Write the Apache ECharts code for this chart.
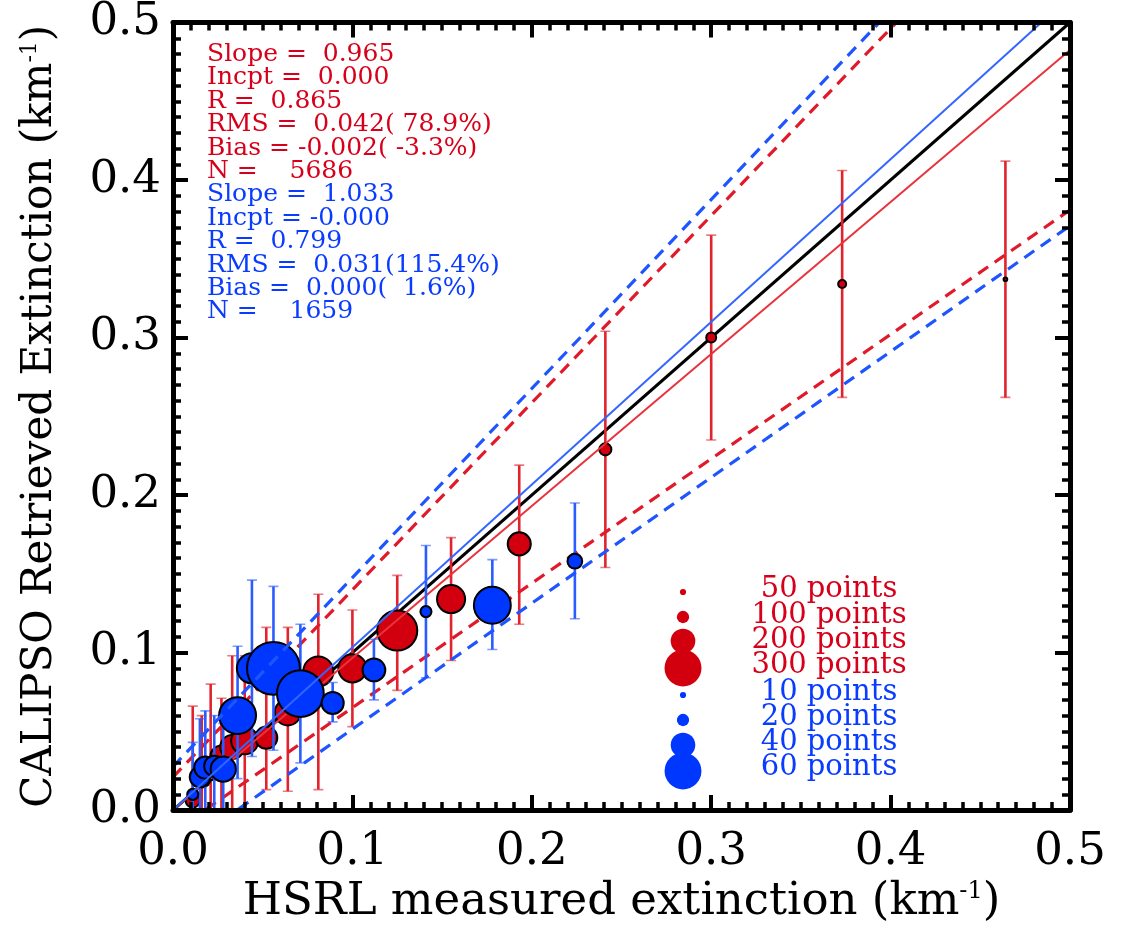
<!DOCTYPE html>
<html>
<head>
<meta charset="utf-8">
<script src="https://cdn.jsdelivr.net/npm/echarts@6/dist/echarts.min.js"></script>
<style>html,body{margin:0;padding:0;background:#fff}#c{width:1125px;height:930px}</style>
</head>
<body>
<div id="c"></div>
<script>
// ---------------- data ----------------
const redX  = [0.011, 0.016, 0.021, 0.027, 0.033, 0.040, 0.052, 0.064, 0.081, 0.100, 0.125, 0.155, 0.193, 0.241, 0.300, 0.373, 0.464];
const redY  = [0.006, 0.020, 0.026, 0.034, 0.040, 0.044, 0.046, 0.062, 0.088, 0.090, 0.114, 0.134, 0.169, 0.229, 0.300, 0.334, 0.337];
const redHi = [0.066, 0.060, 0.080, 0.071, 0.098, 0.098, 0.116, 0.116, 0.137, 0.127, 0.149, 0.173, 0.219, 0.304, 0.365, 0.406, 0.412];
const redLo = [-0.02, -0.02, -0.02, -0.02, -0.01, 0.000, 0.013, 0.012, 0.013, 0.053, 0.076, 0.095, 0.118, 0.154, 0.235, 0.262, 0.262];
const redN  = [114, 146, 179, 179, 195, 220, 179, 211, 244, 228, 325, 228, 187, 98, 81, 65, 30];

const blueX  = [0.011, 0.015, 0.018, 0.023, 0.028, 0.036, 0.044, 0.056, 0.071, 0.089, 0.112, 0.141, 0.178, 0.224];
const blueY  = [0.010, 0.021, 0.027, 0.028, 0.026, 0.060, 0.090, 0.090, 0.074, 0.068, 0.089, 0.126, 0.130, 0.158];
const blueHi = [0.043, 0.058, 0.063, 0.060, 0.055, 0.104, 0.146, 0.142, 0.118, 0.081, 0.1085, 0.168, 0.159, 0.195];
const blueLo = [-0.02, -0.02, -0.02, -0.02, -0.02, 0.020, 0.034, 0.038, 0.030, 0.056, 0.070, 0.084, 0.102, 0.1215];
const blueN  = [18, 33, 36, 33, 41, 60, 49, 86, 76, 36, 37, 18, 60, 24];

// fit lines: [slope, intercept]
const oneToOne   = [1.0, 0.0];
const redFit     = [0.965, 0.000];
const redUpper   = [1.188, 0.021];
const redLower   = [0.790, -0.014];
const blueFit    = [1.033, 0.000];
const blueUpper  = [1.200, 0.0276];
const blueLower  = [0.799, -0.0285];

const xTicks = [0.0, 0.1, 0.2, 0.3, 0.4, 0.5];

const redStats = ['Slope =  0.965', 'Incpt =  0.000', 'R =  0.865', 'RMS =  0.042( 78.9%)', 'Bias = -0.002( -3.3%)', 'N =    5686'];
const blueStats = ['Slope =  1.033', 'Incpt = -0.000', 'R =  0.799', 'RMS =  0.031(115.4%)', 'Bias =  0.000(  1.6%)', 'N =    1659'];

const redLegendN  = [50, 100, 200, 300];
const blueLegendN = [10, 20, 40, 60];

// ---------------- styling ----------------
const RED = '#d2000f', BLUE = '#0037ff';
const RED_T = '#d7001a', BLUE_T = '#0a3cff';
const RED_BAR = '#e0232d', BLUE_BAR = '#2a5cff';
const FONT = '"DejaVu Serif", serif';
const redSize = n => n * 0.1233;
const blueSize = n => n * 0.615;

function lineData(p) { return [[0, p[1]], [0.5, p[0] * 0.5 + p[1]]]; }
function zip3(a, b, c) { return a.map((v, i) => [v, b[i], c[i]]); }

function errBar(color) {
  return function (params, api) {
    const x = api.value(0), lo = api.value(1), hi = api.value(2);
    const pH = api.coord([x, hi]), pL = api.coord([x, lo]);
    const hw = 5;
    return {
      type: 'group',
      children: [
        { type: 'line', shape: { x1: pH[0], y1: pH[1], x2: pL[0], y2: pL[1] }, style: { stroke: color, lineWidth: 2.6 } },
        { type: 'line', shape: { x1: pH[0] - hw, y1: pH[1], x2: pH[0] + hw, y2: pH[1] }, style: { stroke: color, lineWidth: 1.6, opacity: 0.6 } },
        { type: 'line', shape: { x1: pL[0] - hw, y1: pL[1], x2: pL[0] + hw, y2: pL[1] }, style: { stroke: color, lineWidth: 1.6, opacity: 0.6 } }
      ]
    };
  };
}

function fitSeries(p, color, width, dashed, z) {
  return {
    type: 'line', data: lineData(p), symbol: 'none', clip: true, z: z, silent: true,
    lineStyle: { color: color, width: width, type: dashed ? [12, 8] : 'solid' },
    xAxisIndex: 0, yAxisIndex: 0
  };
}

const axisCommon = {
  type: 'value', min: 0, max: 0.5, interval: 0.1, z: 20,
  splitLine: { show: false },
  axisLine: { show: true, onZero: false, lineStyle: { color: '#000', width: 5 } },
  axisTick: { show: true, inside: true, length: 15, lineStyle: { color: '#000', width: 4 } },
  minorTick: { show: true, splitNumber: 10, length: 8, lineStyle: { color: '#000', width: 3.5 } }
};

const tickLabel = {
  fontFamily: FONT, fontSize: 45, color: '#000',
  formatter: v => xTicks.find(t => Math.abs(t - v) < 1e-9).toFixed(1)
};

const legendGraphics = [];
const legRows = [592, 617, 641, 668, 695, 720, 745, 771];
const legTextY = [589, 615, 640, 665, 692, 717, 742, 767];
redLegendN.forEach((n, i) => {
  legendGraphics.push({ type: 'circle', z: 30, shape: { cx: 683, cy: legRows[i], r: redSize(n) / 2 }, style: { fill: RED } });
  legendGraphics.push({ type: 'text', z: 30, x: 829, y: legTextY[i], style: { text: n + ' points', fill: RED_T, fontFamily: FONT, fontSize: 29, align: 'center', verticalAlign: 'middle' } });
});
blueLegendN.forEach((n, i) => {
  legendGraphics.push({ type: 'circle', z: 30, shape: { cx: 683, cy: legRows[i + 4], r: blueSize(n) / 2 }, style: { fill: BLUE } });
  legendGraphics.push({ type: 'text', z: 30, x: 829, y: legTextY[i + 4], style: { text: n + ' points', fill: BLUE_T, fontFamily: FONT, fontSize: 29, align: 'center', verticalAlign: 'middle' } });
});

const chart = echarts.init(document.getElementById('c'), null, { renderer: 'canvas' });
chart.setOption({
  backgroundColor: '#fff',
  animation: false,
  grid: { left: 173, right: 55, top: 13, bottom: 112, containLabel: false },
  xAxis: [
    Object.assign({}, axisCommon, {
      position: 'bottom',
      axisLabel: Object.assign({ margin: 20 }, tickLabel),
      name: 'HSRL measured extinction (km{sup|-1})',
      nameLocation: 'middle', nameGap: 52,
      nameTextStyle: { fontFamily: FONT, fontSize: 45, color: '#000', rich: { sup: { fontFamily: FONT, fontSize: 24, verticalAlign: 'top', color: '#000' } } }
    }),
    Object.assign({}, axisCommon, { position: 'top', axisLabel: { show: false } })
  ],
  yAxis: [
    Object.assign({}, axisCommon, {
      position: 'left',
      axisLabel: Object.assign({ margin: 12 }, tickLabel),
      name: 'CALIPSO Retrieved Extinction (km{sup|-1})',
      nameLocation: 'middle', nameGap: 112,
      nameTextStyle: { fontFamily: FONT, fontSize: 42, color: '#000', rich: { sup: { fontFamily: FONT, fontSize: 22, verticalAlign: 'top', color: '#000' } } }
    }),
    Object.assign({}, axisCommon, { position: 'right', axisLabel: { show: false } })
  ],
  graphic: [
    { type: 'text', left: 207, top: 42, z: 30, style: { text: redStats.join('\n'), fill: RED_T, fontFamily: FONT, fontSize: 25, lineHeight: 23.4 } },
    { type: 'text', left: 207, top: 182.4, z: 30, style: { text: blueStats.join('\n'), fill: BLUE_T, fontFamily: FONT, fontSize: 25, lineHeight: 23.4 } }
  ].concat(legendGraphics),
  series: [
    fitSeries(oneToOne, '#000', 3, false, 2),
    { type: 'custom', z: 3, clip: true, renderItem: errBar(RED_BAR), data: zip3(redX, redLo, redHi), encode: { x: 0, y: [1, 2] }, silent: true },
    { type: 'scatter', z: 4, data: zip3(redX, redY, redN), symbolSize: v => redSize(v[2]), itemStyle: { color: RED, borderColor: '#000', borderWidth: 2, opacity: 1 }, silent: true },
    fitSeries(redFit, '#e8333d', 2, false, 5),
    fitSeries(redUpper, '#e01a2a', 3.2, true, 5),
    fitSeries(redLower, '#e01a2a', 3.2, true, 5),
    { type: 'custom', z: 6, clip: true, renderItem: errBar(BLUE_BAR), data: zip3(blueX, blueLo, blueHi), encode: { x: 0, y: [1, 2] }, silent: true },
    { type: 'scatter', z: 7, data: zip3(blueX, blueY, blueN), symbolSize: v => blueSize(v[2]), itemStyle: { color: BLUE, borderColor: '#000', borderWidth: 2, opacity: 1 }, silent: true },
    fitSeries(blueFit, '#3366ff', 2, false, 8),
    fitSeries(blueUpper, '#1f55ff', 3.2, true, 8),
    fitSeries(blueLower, '#1f55ff', 3.2, true, 8)
  ]
});
</script>
</body>
</html>
